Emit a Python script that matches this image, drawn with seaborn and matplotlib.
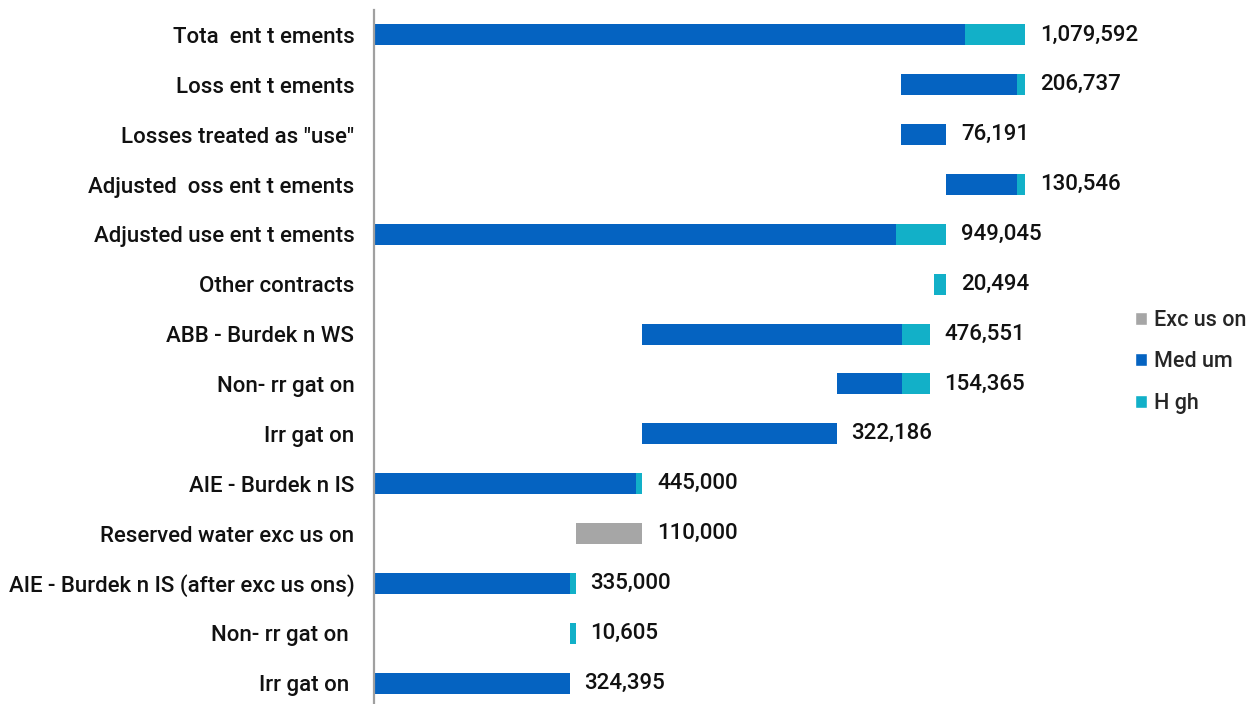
import matplotlib
matplotlib.use("Agg")
import matplotlib.pyplot as plt
import seaborn as sns
import pandas as pd
import numpy as np
from matplotlib.patches import Patch

categories = ["Tota  ent t ements", "Loss ent t ements", "Losses treated as \"use\"",
              "Adjusted  oss ent t ements", "Adjusted use ent t ements", "Other contracts",
              "ABB - Burdek n WS", "Non- rr gat on", "Irr gat on", "AIE - Burdek n IS",
              "Reserved water exc us on", "AIE - Burdek n IS (after exc us ons)",
              "Non- rr gat on ", "Irr gat on "]
starts = [0, 872855, 872855, 949046, 0, 928551, 445000, 767186, 445000, 0,
          335000, 0, 324395, 0]
medium = [980092, 192337, 76191, 116146, 865645, 0, 430551, 108365, 322186, 434395,
          0, 324395, 0, 324395]
high = [99500, 14400, 0, 14400, 83400, 20494, 46000, 46000, 0, 10605,
        0, 10605, 10605, 0]
exclusion = [0, 0, 0, 0, 0, 0, 0, 0, 0, 0, 110000, 0, 0, 0]
totals = [1079592, 206737, 76191, 130546, 949045, 20494, 476551, 154365, 322186,
          445000, 110000, 335000, 10605, 324395]
legend_labels = ["Exc us on", "Med um", "H gh"]

C_MED = "#0563C1"
C_HIGH = "#12B0C8"
C_EXC = "#A6A6A6"

sns.set_theme(style="white")
plt.rcParams["font.family"] = ["Roboto", "DejaVu Sans"]
plt.rcParams["font.weight"] = "medium"

df = pd.DataFrame({"cat": categories, "start": starts, "medium": medium,
                   "high": high, "exclusion": exclusion, "total": totals})

fig = plt.figure(figsize=(12.59, 7.04), dpi=100)
ax = fig.add_axes([0.297, -0.0057, 0.599, 0.9915])

start_arr = np.array(starts, dtype=float)
med_arr = np.array(medium, dtype=float)
exc_arr = np.array(exclusion, dtype=float)

sns.barplot(data=df, y="cat", x="medium", order=categories, orient="h",
            color=C_MED, saturation=1, width=0.42, left=start_arr, ax=ax,
            errorbar=None, linewidth=0)
sns.barplot(data=df, y="cat", x="exclusion", order=categories, orient="h",
            color=C_EXC, saturation=1, width=0.42, left=start_arr + med_arr, ax=ax,
            errorbar=None, linewidth=0)
sns.barplot(data=df, y="cat", x="high", order=categories, orient="h",
            color=C_HIGH, saturation=1, width=0.42, left=start_arr + med_arr + exc_arr,
            ax=ax, errorbar=None, linewidth=0)

for i, (s, t) in enumerate(zip(starts, totals)):
    ax.text(s + t + 24000, i, f"{t:,}", va="center", ha="left", fontsize=16,
            fontweight="medium", color="#111111")

ax.set_xlim(0, 1250000)
ax.set_ylim(13.5, -0.5)
ax.set_xlabel("")
ax.set_ylabel("")
ax.set_xticks([])
ax.tick_params(axis="y", length=0, pad=14, labelsize=16, labelcolor="#111111")
for lbl in ax.get_yticklabels():
    lbl.set_fontweight("medium")
for sp in ["top", "right", "bottom"]:
    ax.spines[sp].set_visible(False)
ax.spines["left"].set_color("#A0A0A0")
ax.spines["left"].set_linewidth(1.6)

handles = [Patch(facecolor=C_EXC), Patch(facecolor=C_MED), Patch(facecolor=C_HIGH)]
fig.legend(handles, legend_labels, loc="center left", bbox_to_anchor=(0.9016, 0.486),
           frameon=False, prop={"size": 15.5, "weight": "medium"},
           handlelength=0.55, handleheight=0.55,
           handletextpad=0.35, labelspacing=0.95, borderaxespad=0, borderpad=0)

fig.savefig("out.png", dpi=100)
